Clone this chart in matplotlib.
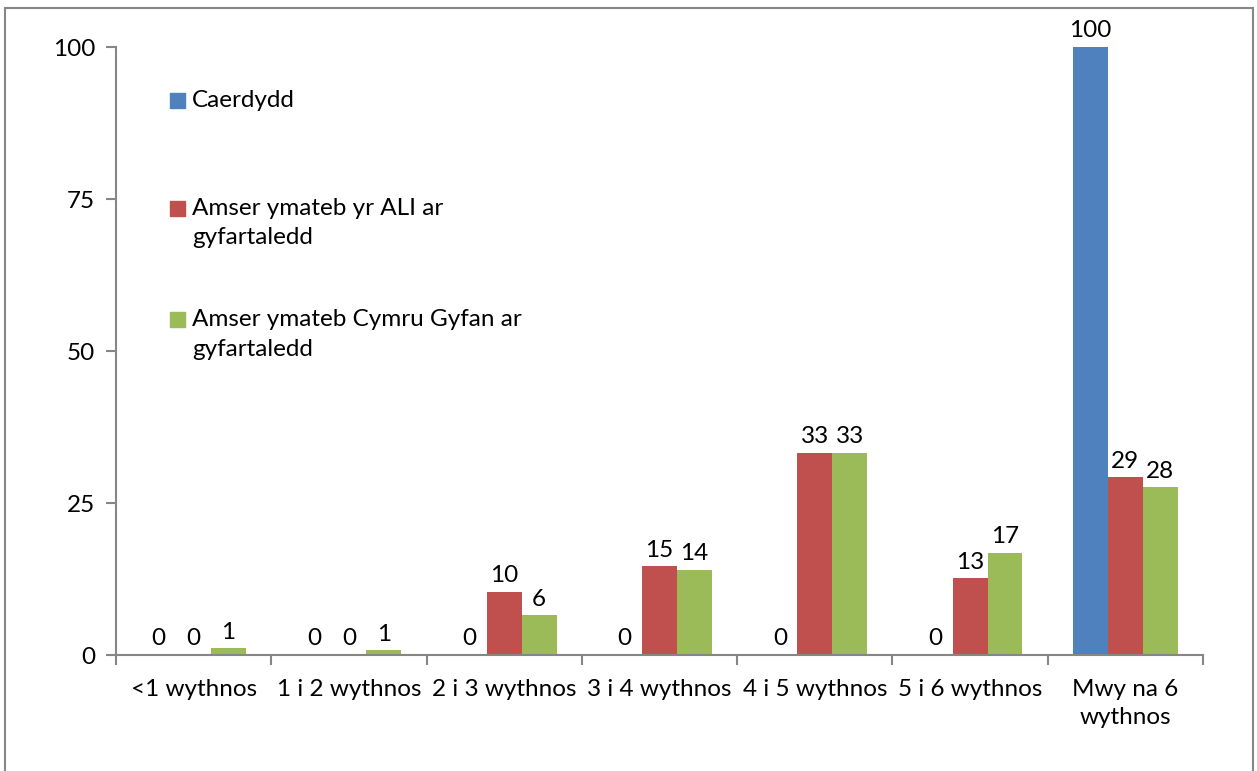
import numpy as np
import matplotlib.pyplot as plt
from matplotlib.patches import Rectangle

plt.rcParams['font.family'] = ['Lato', 'DejaVu Sans']

categories = ['<1 wythnos', '1 i 2 wythnos', '2 i 3 wythnos', '3 i 4 wythnos',
              '4 i 5 wythnos', '5 i 6 wythnos', 'Mwy na 6\nwythnos']
caerdydd = [0, 0, 0, 0, 0, 0, 100]
ali = [0, 0, 10.4, 14.6, 33.3, 12.6, 29.2]
cymru = [1.1, 0.8, 6.5, 14.0, 33.3, 16.8, 27.6]
series_names = ['Caerdydd', 'Amser ymateb yr ALI ar\ngyfartaledd',
                'Amser ymateb Cymru Gyfan ar\ngyfartaledd']
colors = ['#4F81BD', '#C0504D', '#9BBB59']
grey = '#868686'
fs = 17.5

fig = plt.figure(figsize=(12.57, 7.71), dpi=100)
ax = fig.add_axes([116 / 1257, 116 / 771, (1203 - 116) / 1257, (655 - 47) / 771])

x = np.arange(len(categories))
w = 0.225
for i, (vals, c) in enumerate(zip([caerdydd, ali, cymru], colors)):
    pos = x + (i - 1) * w
    bars = ax.bar(pos, vals, width=w, color=c)
    for b, v in zip(bars, vals):
        ax.annotate(f'{v:.0f}', (b.get_x() + b.get_width() / 2, v),
                    xytext=(0, 4), textcoords='offset points',
                    ha='center', va='bottom', fontsize=fs)

ax.set_xlim(-0.5, len(categories) - 0.5)
ax.set_ylim(0, 100)
ax.set_yticks([0, 25, 50, 75, 100])
ax.set_xticks(x)
ax.set_xticklabels(categories, fontsize=fs, linespacing=1.45)
ax.set_xticks(np.arange(-0.5, len(categories)), minor=True)
ax.tick_params(axis='x', which='major', length=0, pad=17)
ax.tick_params(axis='x', which='minor', length=7, width=1.5, color=grey)
ax.tick_params(axis='y', length=7, width=1.5, color=grey, labelsize=fs, pad=8)
for s in ['top', 'right']:
    ax.spines[s].set_visible(False)
for s in ['left', 'bottom']:
    ax.spines[s].set_color(grey)
    ax.spines[s].set_linewidth(1.5)

# legend drawn by hand so the swatch sits on the first text line
leg_y = [101, 209, 320]
for name, c, yy in zip(series_names, colors, leg_y):
    fy = 1 - yy / 771
    fig.patches.append(Rectangle((170 / 1257, fy - 7 / 771), 15 / 1257, 15 / 771,
                                 transform=fig.transFigure, color=c))
    fig.text(192 / 1257, fy + 11 / 771, name, fontsize=fs, va='top',
             linespacing=1.5)

fig.patches.append(Rectangle((5 / 1257, -0.05), 1248 / 1257, 1.05 - 8 / 771,
                             transform=fig.transFigure, fill=False,
                             edgecolor=grey, linewidth=1.5))

fig.savefig('out.png')
